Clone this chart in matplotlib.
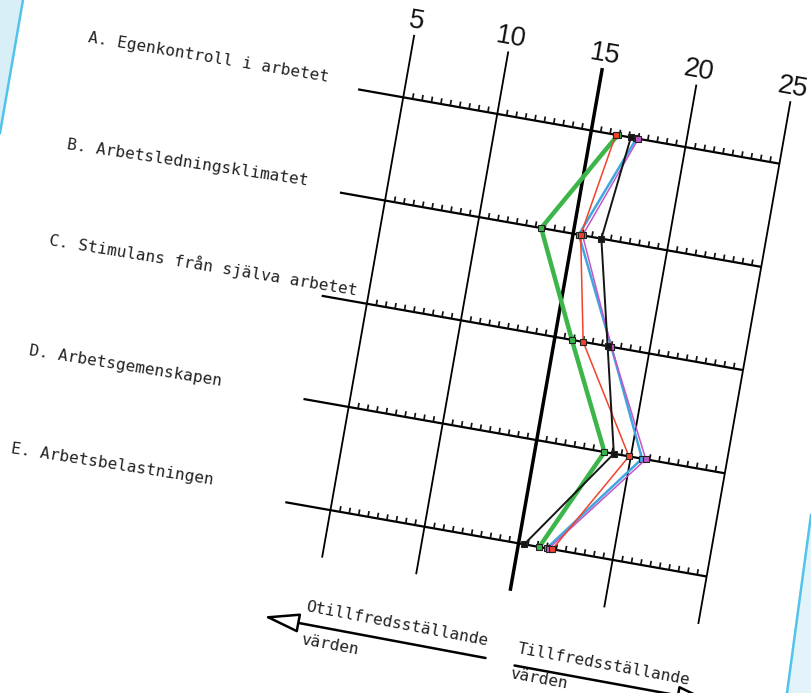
import numpy as np
import matplotlib
matplotlib.use("Agg")
import matplotlib.pyplot as plt
from matplotlib.transforms import Affine2D
from matplotlib.patches import Polygon, FancyArrowPatch

# ---------------- data ----------------
categories = ["A. Egenkontroll i arbetet",
              "B. Arbetsledningsklimatet",
              "C. Stimulans från själva arbetet",
              "D. Arbetsgemenskapen",
              "E. Arbetsbelastningen"]
scale_labels = [5, 10, 15, 20, 25]
green_values = [16.4, 13.3, 15.9, 18.6, 16.1]
red_values = [16.3, 15.4, 16.5, 19.9, 16.8]
blue_values = [17.4, 15.3, 18.0, 20.6, 16.5]
magenta_values = [17.5, 15.5, 18.0, 20.8, 16.6]
black_values = [17.1, 16.5, 17.8, 19.1, 15.3]
left_caption = ["Otillfredsställande", "värden"]
right_caption = ["Tillfredsställande", "värden"]

# ---------------- layout ----------------
W, H = 811, 693
fig = plt.figure(figsize=(W / 100, H / 100), dpi=100)
fig.patch.set_facecolor("white")

page = fig.add_axes([0, 0, 1, 1])
page.set_xlim(0, W)
page.set_ylim(H, 0)
page.axis("off")

ax = fig.add_axes([0, 0, 1, 1])
ax.axis("off")
ax.patch.set_alpha(0)
PX_PER_UNIT = 19.1
X5 = 360.0
ROW0 = 101.5
ROW_STEP = 104.8
ax.set_xlim(5 - X5 / PX_PER_UNIT, 5 + (W - X5) / PX_PER_UNIT)
ax.set_ylim((H - ROW0) / ROW_STEP, -ROW0 / ROW_STEP)
ax.set_autoscale_on(False)
rot = Affine2D().rotate_deg_around(W / 2, H / 2, -10)
T = ax.transData + rot

rows = np.arange(len(categories))

# page edges (scan)
page.add_patch(Polygon([(0, 0), (23, 0), (0, 133)], closed=True,
                       fc="#d8eff8", ec="none", zorder=0))
page.plot([23, 0], [0, 133], color="#52c3ea", lw=1.8, zorder=1)
page.add_patch(Polygon([(811, 515), (811, 693), (787, 693)], closed=True,
                       fc="#e2f4fa", ec="none", zorder=0))
page.plot([811, 787], [515, 693], color="#52c3ea", lw=1.8, zorder=1)

# horizontal scale lines with ticks
ax.hlines(rows, 2.6, 25, colors="black", lw=1.6, transform=T, zorder=2)
tick_vals = [t for t in np.arange(5.5, 24.6, 0.5) if abs(t % 5) > 1e-9]
for r in rows:
    ax.vlines(tick_vals, r - 0.055, r, colors="#111111", lw=1.25,
              transform=T, zorder=2)

# vertical scale lines
lws = [2.5 if v == 15 else 1.3 for v in scale_labels]
ax.vlines(scale_labels, -0.605, 4.46, colors="black", lw=lws,
          transform=T, zorder=2)
for v in scale_labels:
    ax.text(v, -0.735, str(v), transform=T, rotation=-10,
            rotation_mode="anchor", ha="center", va="center",
            fontsize=19.5, family="Liberation Sans", color="#111111")

# profile series
series = [
    (green_values, "#3cb54a", 3.2, 3),
    (blue_values, "#3ea8de", 1.8, 4),
    (magenta_values, "#c256c8", 1.1, 5),
    (red_values, "#f0432c", 1.1, 6),
    (black_values, "#151515", 1.4, 7),
]
for vals, col, lw, z in series:
    ax.plot(vals, rows, color=col, lw=lw, marker="s", ms=3.8,
            mfc=col, mec="#222222", mew=0.8, transform=T, zorder=z,
            solid_joinstyle="miter")

# category labels (typewritten)
label_pos = [(87.3, 41.7, -9.4), (66.7, 149.3, -8.6), (48.3, 245.0, -9.3),
             (28.3, 355.0, -9.1), (10.0, 453.3, -8.9)]
for txt, (x, y, a) in zip(categories, label_pos):
    page.text(x, y, txt, ha="left", va="baseline", rotation=a,
              rotation_mode="anchor", fontsize=11.6,
              family="DejaVu Sans Mono", color="#222222")

# bottom arrows and captions
page.add_patch(FancyArrowPatch((485.5, 658), (263.6, 616.4),
               arrowstyle="-|>,head_length=2.2,head_width=0.6",
               mutation_scale=10, lw=1.8, ec="black", fc="white",
               shrinkA=0, shrinkB=0, zorder=3))
page.add_patch(FancyArrowPatch((514.5, 665.5), (712.7, 701.8),
               arrowstyle="-|>,head_length=2.2,head_width=0.6",
               mutation_scale=10, lw=1.8, ec="black", fc="white",
               shrinkA=0, shrinkB=0, zorder=3))
page.text(305.5, 611.0, left_caption[0], ha="left", va="baseline",
          rotation=-10.8, rotation_mode="anchor", fontsize=11.6,
          family="DejaVu Sans Mono", color="#222222")
page.text(300.0, 643.6, left_caption[1], ha="left", va="baseline",
          rotation=-10.5, rotation_mode="anchor", fontsize=11.6,
          family="DejaVu Sans Mono", color="#222222")
page.text(516.4, 652.7, right_caption[0], ha="left", va="baseline",
          rotation=-10.5, rotation_mode="anchor", fontsize=11.6,
          family="DejaVu Sans Mono", color="#222222")
page.text(509.1, 677.5, right_caption[1], ha="left", va="baseline",
          rotation=-10.5, rotation_mode="anchor", fontsize=11.6,
          family="DejaVu Sans Mono", color="#222222")

fig.savefig("out.png", dpi=100, facecolor="white")
